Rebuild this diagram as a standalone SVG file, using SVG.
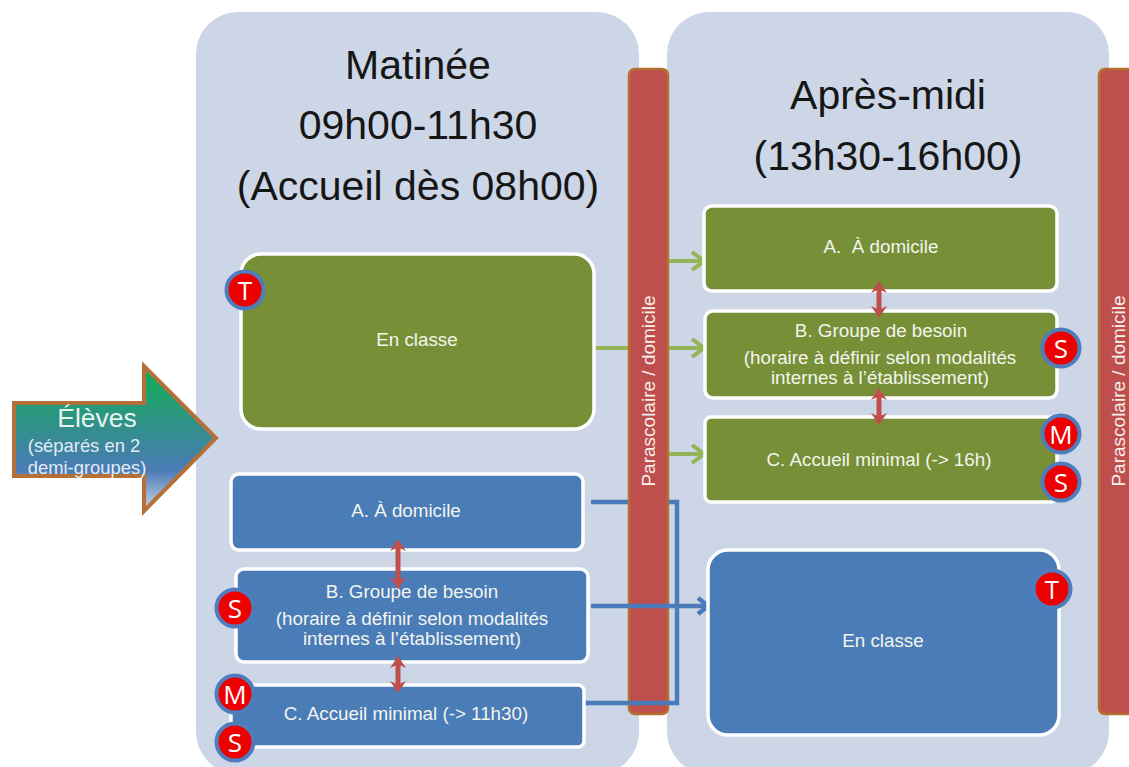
<svg xmlns="http://www.w3.org/2000/svg" width="1129" height="767" viewBox="0 0 1129 767">
<style>
text{font-family:"Liberation Sans",Arial,sans-serif;text-anchor:middle}
.panel{fill:#cdd6e6}
.title{font-size:41px;fill:#161616}
.bar{fill:#bf4f4c;stroke:#b5702f;stroke-width:2.5}
.barT{font-size:19px;fill:#f4f0ee}
.g{fill:#779038;stroke:#fff;stroke-width:3.5}
.b{fill:#4a7cb8;stroke:#fff;stroke-width:3.5}
.t{font-size:18.8px;fill:#f3f5ee;white-space:pre}
.c circle{fill:#ee0000;stroke:#4f7dbb;stroke-width:4}
.c text{font-family:"Open Sans","Liberation Sans",sans-serif;font-size:26px;fill:#fff}
.lg{fill:none;stroke:#93b557;stroke-width:4}
.lb{fill:none;stroke:#4a7cbc;stroke-width:4.5}
.dbl{fill:#bf4f4c;stroke:none}
</style>
<defs>
<linearGradient id="grad" x1="0" y1="0" x2="0" y2="1">
<stop offset="0" stop-color="#0fae50"/>
<stop offset="0.72" stop-color="#4a7bb5"/>
<stop offset="1" stop-color="#cdd6e6"/>
</linearGradient>
<marker id="ag" markerUnits="userSpaceOnUse" markerWidth="18" markerHeight="20" refX="15" refY="10" orient="auto"><path d="M3 1L15 10L3 19" fill="none" stroke="#93b557" stroke-width="4"/></marker>
<marker id="ab" markerUnits="userSpaceOnUse" markerWidth="16" markerHeight="20" refX="13" refY="10" orient="auto"><path d="M3 2L13 10L3 18" fill="none" stroke="#4a7cbc" stroke-width="4.5"/></marker>
<path id="dbl" d="M0 0L8 12L2.5 9.5V27.5L8 25L0 37L-8 25L-2.5 27.5V9.5L-8 12Z"/>
</defs>

<g id="panel-matin"><rect class="panel" x="196" y="12" width="443" height="762" rx="42"/>
<text class="title" x="418" y="79">Matinée</text>
<text class="title" x="418" y="139">09h00-11h30</text>
<text class="title" x="418" y="200">(Accueil dès 08h00)</text></g>
<g id="panel-aprem"><rect class="panel" x="667" y="12" width="442" height="762" rx="42"/>
<text class="title" x="888" y="109">Après-midi</text>
<text class="title" x="888" y="170">(13h30-16h00)</text></g>

<g id="connectors-under">
<path class="lg" d="M593 348H640"/>
<path class="lb" d="M591 502H640"/>
</g>
<g id="bar-1"><rect class="bar" x="629" y="69" width="39" height="645" rx="6"/>
<text class="barT" transform="translate(655 391) rotate(-90)">Parascolaire / domicile</text></g>
<g id="bar-2"><rect class="bar" x="1099" y="69" width="50" height="645" rx="6"/>
<text class="barT" transform="translate(1125 391) rotate(-90)">Parascolaire / domicile</text></g>

<g id="connectors">
<path class="lg" d="M669 261H704" marker-end="url(#ag)"/>
<path class="lg" d="M669 348H704" marker-end="url(#ag)"/>
<path class="lg" d="M669 454H704" marker-end="url(#ag)"/>
<path class="lb" d="M669 502H677V703H582"/>
<path class="lb" d="M591 606H708" marker-end="url(#ab)"/>
</g>

<g id="eleves">
<path d="M14 403H144V366L216 438L144 511V476H14Z" fill="url(#grad)" stroke="#b5703a" stroke-width="4"/>
<text x="97" y="427" font-size="26.5" fill="#e8f3f0">Élèves</text>
<text x="84" y="452" font-size="18.4" fill="#e2ebf5">(séparés en 2</text>
<text x="87" y="474" font-size="18.4" fill="#e2ebf5">demi-groupes)</text>
</g>

<g id="m-classe"><rect class="g" x="241" y="254" width="353" height="175" rx="20"/><text class="t" x="417" y="346">En classe</text></g>
<g id="m-a"><rect class="b" x="231" y="474" width="352" height="76" rx="8"/><text class="t" x="406" y="517">A. À domicile</text></g>
<g id="m-b"><rect class="b" x="236" y="569" width="352" height="93" rx="8"/>
<text class="t" x="412" y="598">B. Groupe de besoin</text>
<text class="t" x="412" y="625">(horaire à définir selon modalités</text>
<text class="t" x="412" y="645">internes à l’établissement)</text></g>
<g id="m-c"><rect class="b" x="231" y="685" width="353" height="62" rx="6"/><text class="t" x="406" y="720">C. Accueil minimal (-&gt; 11h30)</text></g>

<g id="a-a"><rect class="g" x="704" y="206" width="353" height="85" rx="8"/><text class="t" x="881" y="253">A.  À domicile</text></g>
<g id="a-b"><rect class="g" x="705" y="311" width="352" height="87" rx="8"/>
<text class="t" x="881" y="337">B. Groupe de besoin</text>
<text class="t" x="880" y="364">(horaire à définir selon modalités</text>
<text class="t" x="880" y="384">internes à l’établissement)</text></g>
<g id="a-c"><rect class="g" x="705" y="417" width="352" height="85" rx="6"/><text class="t" x="879" y="466">C. Accueil minimal (-&gt; 16h)</text></g>
<g id="a-classe"><rect class="b" x="708" y="550" width="351" height="185" rx="20"/><text class="t" x="883" y="647">En classe</text></g>

<g id="double-arrows" class="dbl">
<path d="M398 539L406 551L400.500 548.500V579.500L406 577L398 589L390 577L395.500 579.500V548.500L390 551Z"/>
<use href="#dbl" x="398" y="656"/>
<use href="#dbl" x="879" y="281"/>
<use href="#dbl" x="879" y="388"/>
</g>

<g id="badge-t1" class="c"><circle cx="245" cy="290" r="18.5"/><text x="245" y="300">T</text></g>
<g id="badge-s1" class="c"><circle cx="235" cy="608" r="18.5"/><text x="235" y="618">S</text></g>
<g id="badge-m1" class="c"><circle cx="235" cy="694" r="18.5"/><text x="235" y="704">M</text></g>
<g id="badge-s2" class="c"><circle cx="235" cy="742" r="18.5"/><text x="235" y="752">S</text></g>
<g id="badge-s3" class="c"><circle cx="1061" cy="348" r="18.5"/><text x="1061" y="358">S</text></g>
<g id="badge-m2" class="c"><circle cx="1061" cy="434" r="18.5"/><text x="1061" y="444">M</text></g>
<g id="badge-s4" class="c"><circle cx="1061" cy="482" r="18.5"/><text x="1061" y="492">S</text></g>
<g id="badge-t2" class="c"><circle cx="1052" cy="589" r="18.5"/><text x="1052" y="599">T</text></g>
</svg>
